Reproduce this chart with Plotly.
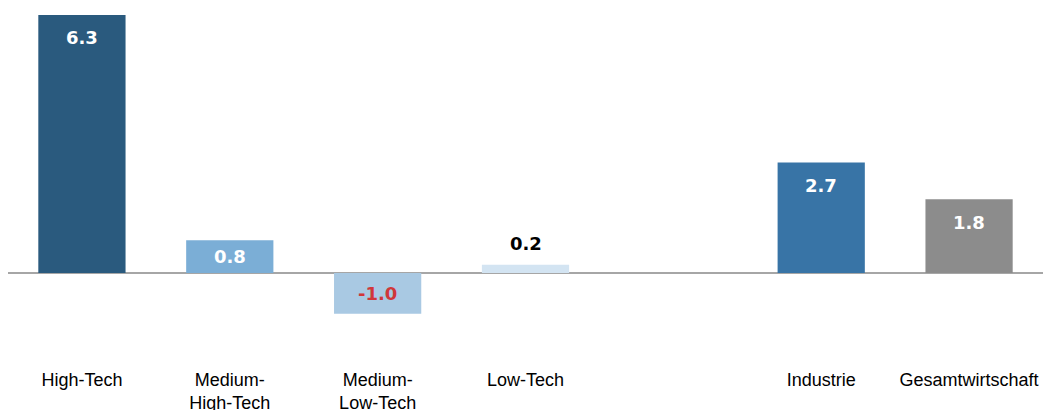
import plotly.graph_objects as go

categories = ["High-Tech", "Medium-<br>High-Tech", "Medium-<br>Low-Tech", "Low-Tech", " ", "Industrie", "Gesamtwirtschaft"]
values = [6.3, 0.8, -1.0, 0.2, None, 2.7, 1.8]
bar_colors = ["#2A5A7E", "#7BAED6", "#A9C9E3", "#D3E4F2", "#FFFFFF", "#3874A6", "#8C8C8C"]
value_labels = ["6.3", "0.8", "-1.0", "0.2", "", "2.7", "1.8"]

fig = go.Figure()
fig.add_trace(go.Bar(
    x=categories, y=values, marker=dict(color=bar_colors, line=dict(width=0)),
    width=0.59, hoverinfo="skip",
))

annotations = []
for cat, v, lab in zip(categories, values, value_labels):
    if v is None:
        continue
    if v < 0:
        ypos, col = v / 2, "#D0373A"
    elif v < 0.5:
        ypos, col = v + 0.52, "#000000"
    else:
        ypos, col = v - min(0.56, v / 2), "#FFFFFF"
    annotations.append(dict(
        x=cat, y=ypos, xref="x", yref="y", text=lab, showarrow=False,
        font=dict(family="DejaVu Sans", size=18, color=col, weight="bold"),
        xanchor="center", yanchor="middle",
    ))

fig.update_layout(
    width=1046, height=410,
    margin=dict(l=8, r=3, t=0, b=47, autoexpand=False),
    paper_bgcolor="white", plot_bgcolor="white",
    showlegend=False,
    annotations=annotations,
    font=dict(family="Liberation Sans", size=18, color="#000000"),
    xaxis=dict(
        type="category", categoryorder="array", categoryarray=categories,
        showgrid=False, zeroline=False, showline=False, ticks="",
        tickfont=dict(family="Liberation Sans", size=18, color="#000000"),
        ticklabelstandoff=4, automargin=False,
        range=[-0.5, 6.5],
    ),
    yaxis=dict(
        range=[-2.2, 6.667], showgrid=False, showticklabels=False, ticks="",
        zeroline=True, zerolinecolor="#A6A6A6", zerolinewidth=2, showline=False,
        automargin=False,
    ),
)

fig.write_html("out.html")
